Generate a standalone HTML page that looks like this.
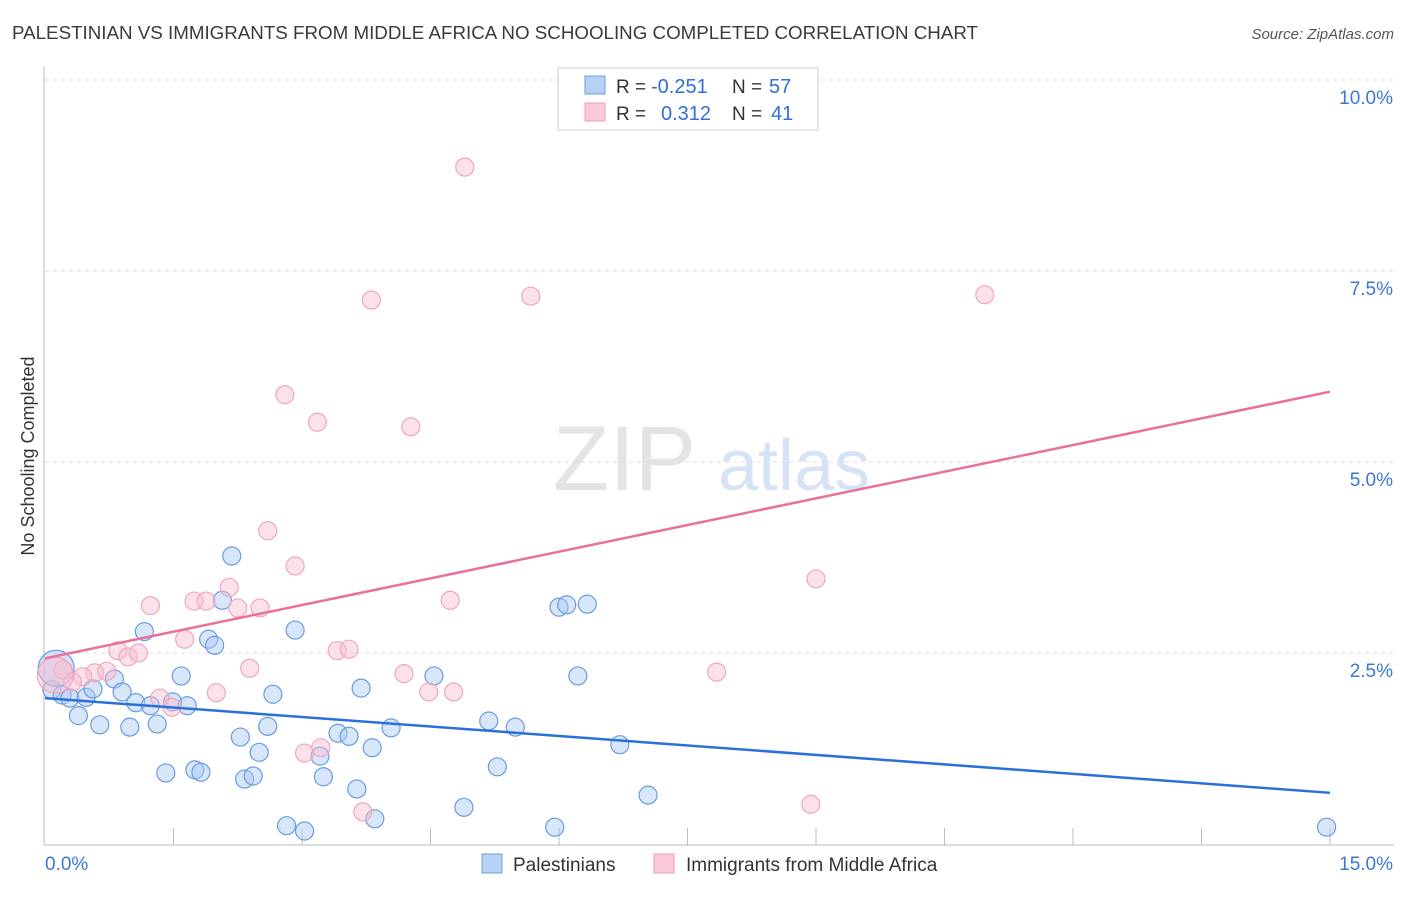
<!DOCTYPE html>
<html><head><meta charset="utf-8"><style>
body{margin:0;background:#fff;font-family:"Liberation Sans",sans-serif}
svg text{font-family:"Liberation Sans",sans-serif}
</style></head><body>
<svg id="chart" width="1406" height="892" viewBox="0 0 1406 892" xmlns="http://www.w3.org/2000/svg">
<text x="12" y="39" font-size="18" fill="#3a3a3a" textLength="966" lengthAdjust="spacingAndGlyphs">PALESTINIAN VS IMMIGRANTS FROM MIDDLE AFRICA NO SCHOOLING COMPLETED CORRELATION CHART</text>
<text x="1394" y="39" font-size="15" fill="#555" font-style="italic" text-anchor="end">Source: ZipAtlas.com</text>
<g>
<text x="553" y="490" font-size="92" fill="#e4e4e4" font-family="Liberation Serif,serif">ZIP</text>
<text x="718" y="490" font-size="72" fill="#d6e3f5">atlas</text>
</g>
<g id="grid"></g>
<g id="axes"></g>
<g id="pts"></g>
<g id="lines"></g>
<text transform="translate(34,456) rotate(-90)" font-size="18" fill="#333" text-anchor="middle">No Schooling Completed</text>
<g>
<rect x="558" y="68" width="260" height="62" fill="#fff" stroke="#ccc"/>
<rect x="585" y="76" width="20" height="18" fill="#b7d0f5" stroke="#6a9be0"/>
<rect x="585" y="103" width="20" height="18" fill="#fbc9d8" stroke="#f0a0b8"/>
<text x="616" y="93" font-size="19" fill="#333">R =</text>
<text x="651" y="93" font-size="20" fill="#2f6fd6">-0.251</text>
<text x="732" y="93" font-size="19" fill="#333">N =</text>
<text x="769" y="93" font-size="20" fill="#2f6fd6">57</text>
<text x="616" y="120" font-size="19" fill="#333">R =</text>
<text x="661" y="120" font-size="20" fill="#2f6fd6">0.312</text>
<text x="732" y="120" font-size="19" fill="#333">N =</text>
<text x="771" y="120" font-size="20" fill="#2f6fd6">41</text>
</g>
<g>
<rect x="482" y="854" width="20" height="19" fill="#b7d0f5" stroke="#6a9be0"/>
<text x="513" y="871" font-size="19" fill="#333">Palestinians</text>
<rect x="654" y="854" width="20" height="19" fill="#fbc9d8" stroke="#f0a0b8"/>
<text x="686" y="871" font-size="19" fill="#333">Immigrants from Middle Africa</text>
</g>
</svg>
<script>
const yTicks=[2.5,5,7.5,10];
const yTickLabels=["2.5%","5.0%","7.5%","10.0%"];
const xTickLabels=["0.0%","15.0%"];
const palX=[0.08,0.20,0.29,0.39,0.48,0.56,0.64,0.81,0.90,0.99,1.06,1.16,1.23,1.31,1.41,1.49,1.59,1.66,1.75,1.82,1.91,1.98,2.07,2.18,2.28,2.33,2.43,2.50,2.60,2.66,2.82,2.92,3.03,3.21,3.25,3.42,3.55,3.64,3.69,3.82,3.85,4.04,4.54,4.89,5.18,5.28,5.49,5.95,6.00,6.09,6.22,6.33,6.71,7.04,14.96,0.13];
const palY=[2.02,1.95,1.91,1.68,1.92,2.03,1.56,2.16,1.99,1.53,1.85,2.78,1.81,1.57,0.93,1.86,2.20,1.81,0.97,0.94,2.68,2.60,3.19,3.77,1.40,0.85,0.89,1.20,1.54,1.96,0.24,2.80,0.17,1.15,0.88,1.45,1.41,0.72,2.04,1.26,0.33,1.52,2.20,0.48,1.61,1.01,1.53,0.22,3.10,3.13,2.20,3.14,1.30,0.64,0.22,2.30];
const afrX=[4.90,3.81,5.67,10.97,2.80,3.18,4.27,2.60,2.92,9.00,4.73,2.15,1.23,1.74,1.88,2.25,2.51,1.63,0.85,0.97,1.09,3.41,3.55,2.39,4.19,0.58,0.72,0.44,0.32,0.21,1.34,1.48,2.00,4.48,4.77,7.84,3.03,3.22,3.71,8.94,0.12];
const afrY=[8.86,7.12,7.17,7.19,5.88,5.52,5.46,4.10,3.64,3.47,3.19,3.36,3.12,3.18,3.18,3.09,3.09,2.68,2.53,2.45,2.50,2.53,2.55,2.30,2.23,2.24,2.26,2.19,2.12,2.28,1.91,1.79,1.98,1.99,1.99,2.25,1.19,1.26,0.42,0.52,2.21];
const palTrend=[1.91,0.67];
const afrTrend=[2.43,5.92];
const NS="http://www.w3.org/2000/svg";
const X=v=>45+v/15*1285;
const Y=v=>844-v/2.5*191;
function mk(t,a,p){const e=document.createElementNS(NS,t);for(const k in a)e.setAttribute(k,a[k]);document.getElementById(p).appendChild(e);return e;}
yTicks.forEach((t,i)=>{
 const l=mk('line',{x1:45,x2:1394,y1:Y(t),y2:Y(t),stroke:'#ddd','stroke-dasharray':'4,4'},'grid');
 
 
 const tx=mk('text',{x:1393,y:Y(t)+24,'font-size':19,fill:'#3a78d8','text-anchor':'end'},'grid');
 tx.textContent=yTickLabels[i];
 
 
});
let a=mk('line',{x1:44,x2:44,y1:66,y2:845,stroke:'#bbb'},'axes');


a=mk('line',{x1:44,x2:1394,y1:845,y2:845,stroke:'#bbb'},'axes');


for(let i=1;i<=10;i++){const t=mk('line',{x1:X(i*1.5),x2:X(i*1.5),y1:828,y2:845,stroke:'#bbb'},'axes');
 
 }
[[0,45,'start'],[15,1393,'end']].forEach((d,i)=>{const t=mk('text',{x:d[1],y:870,'font-size':19,fill:'#3a78d8','text-anchor':d[2]},'axes');t.textContent=xTickLabels[i];
 
 });
function pts(xs,ys,fill,stroke,name){xs.forEach((x,i)=>{const big=i===xs.length-1;
 const c=mk('circle',{cx:X(x),cy:Y(ys[i]),r:big?18:9,fill:fill,'fill-opacity':big?0.5:0.45,stroke:stroke,'stroke-width':1.2},'pts');
 
 });}
pts(palX,palY,'#a9c8f2','#6a9be0','palestinians-point');
pts(afrX,afrY,'#f7bcd0','#f0a6bd','middle-africa-point');
let ln=mk('line',{x1:X(0),y1:Y(palTrend[0]),x2:X(15),y2:Y(palTrend[1]),stroke:'#2a6fdb','stroke-width':2.5},'lines');


ln=mk('line',{x1:X(0),y1:Y(afrTrend[0]),x2:X(15),y2:Y(afrTrend[1]),stroke:'#e8709a','stroke-width':2.5},'lines');


</script>
</body></html>
